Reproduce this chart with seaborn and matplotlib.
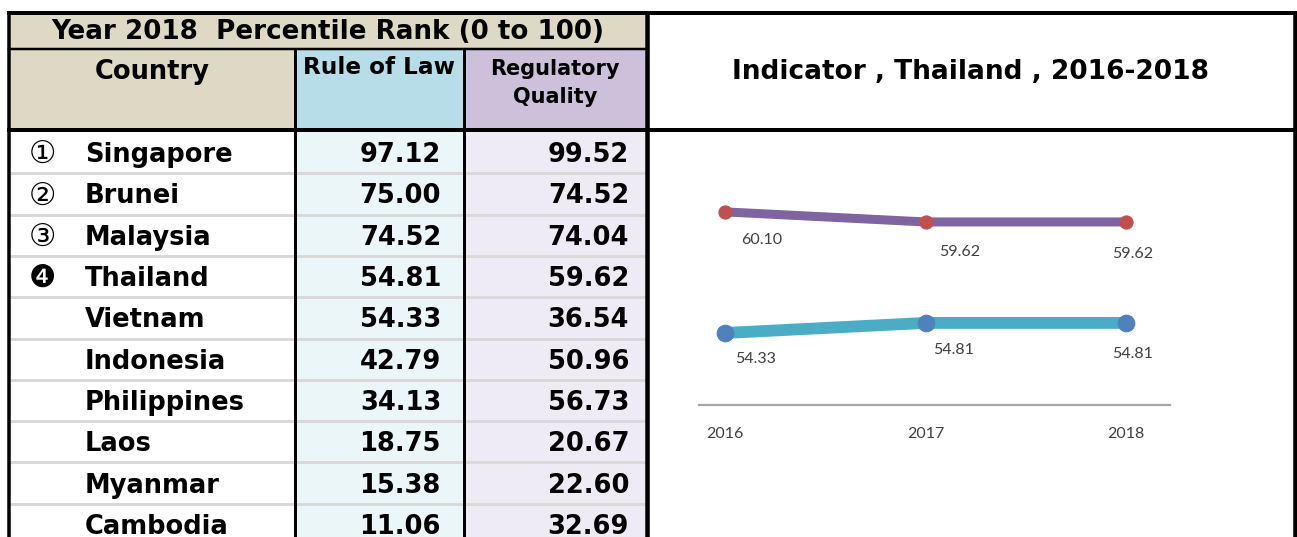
import matplotlib
matplotlib.use('Agg')
import pandas as pd
import matplotlib.pyplot as plt
import seaborn as sns
from matplotlib.patches import Rectangle

# table data (year 2018 percentile rank)
countries = ['Singapore', 'Brunei', 'Malaysia', 'Thailand', 'Vietnam',
             'Indonesia', 'Philippines', 'Laos', 'Myanmar', 'Cambodia']
ranks = ['\u2460', '\u2461', '\u2462', '\u2779', '', '', '', '', '', '']
rule_of_law = [97.12, 75.00, 74.52, 54.81, 54.33, 42.79, 34.13, 18.75, 15.38, 11.06]
reg_quality = [99.52, 74.52, 74.04, 59.62, 36.54, 50.96, 56.73, 20.67, 22.60, 32.69]

# Thailand trend
years = [2016, 2017, 2018]
th_rule_of_law = [54.33, 54.81, 54.81]
th_reg_quality = [60.10, 59.62, 59.62]

sns.set_theme(style='white')
plt.rcParams['font.family'] = ['DejaVu Sans', 'Noto Sans CJK JP']

W, H = 1297, 537
fig = plt.figure(figsize=(W / 100, H / 100), dpi=100)
fig.patch.set_facecolor('white')

# pixel-space axes for the table frame
ax = fig.add_axes([0, 0, 1, 1])
ax.set_xlim(0, W)
ax.set_ylim(H, 0)
ax.axis('off')


def box(x0, y0, x1, y1, color):
    ax.add_patch(Rectangle((x0, y0), x1 - x0, y1 - y0, facecolor=color,
                           edgecolor='none', zorder=1))


def rule(xs, ys, px, color='black', z=4):
    ax.plot(xs, ys, color=color, lw=px * 0.72, solid_capstyle='projecting', zorder=z)


L, R, T = 8.5, 1294.5, 13
MID, HB = 49, 130
C1, C2, C3 = 295, 463.5, 646.5
row0, row_h = 132, 41.3

box(L, T, C3, MID, '#DDD9C4')
box(L, MID, C1, HB, '#DDD9C4')
box(C1, MID, C2, HB, '#B7DEE8')
box(C2, MID, C3, HB, '#CCC0DA')
box(C1, HB, C2, H, '#EBF6F9')
box(C2, HB, C3, H, '#EFEBF4')

for i in range(1, len(countries)):
    y = row0 + i * row_h
    ax.plot([L, C3], [y, y], color='#D9D9D9', lw=3 * 0.72, zorder=2)

rule([L, L], [T, H + 5], 3.5)
rule([C1, C1], [MID, H + 5], 3)
rule([C2, C2], [MID, H + 5], 3)
rule([C3, C3], [T, H + 5], 4.5)
rule([R, R], [T, H + 5], 4.5)
rule([L, R], [T, T], 4)
rule([L, C3], [MID, MID], 2.5)
rule([L, R], [HB, HB], 4)

bold = dict(fontweight='bold', color='black', zorder=5)
ax.text((L + C3) / 2, 32, 'Year 2018  Percentile Rank (0 to 100)', ha='center', va='center',
        fontsize=18.8, **bold)
ax.text((L + C1) / 2, 72, 'Country', ha='center', va='center', fontsize=18.5, **bold)
ax.text((C1 + C2) / 2, 68, 'Rule of Law', ha='center', va='center', fontsize=16.7, **bold)
ax.text((C2 + C3) / 2, 83, 'Regulatory\nQuality', ha='center', va='center', fontsize=15,
        linespacing=1.45, **bold)
ax.text((C3 + R) / 2, 72, 'Indicator , Thailand , 2016-2018', ha='center', va='center',
        fontsize=19, **bold)

for i, (rk, name, rl, rq) in enumerate(zip(ranks, countries, rule_of_law, reg_quality)):
    yb = row0 + (i + 0.5) * row_h + 9.5
    if rk:
        ax.text(42, yb + 1, rk, ha='center', va='baseline', fontsize=22, color='black', zorder=5)
    ax.text(85, yb, name, ha='left', va='baseline', fontsize=18.5, **bold)
    ax.text(441, yb, f'{rl:.2f}', ha='right', va='baseline', fontsize=18.5, **bold)
    ax.text(629, yb, f'{rq:.2f}', ha='right', va='baseline', fontsize=18.5, **bold)

# line chart
ax1 = fig.add_axes([699 / W, (H - 405) / H, 471 / W, 233 / H])
ax1.set_facecolor('none')
trend = pd.DataFrame({'year': years, 'rule': th_rule_of_law, 'reg': th_reg_quality})

sns.lineplot(data=trend, x='year', y='reg', ax=ax1, color='#8064A2', linewidth=6.5,
             marker='o', markersize=9.5, markerfacecolor='#C0504D', markeredgecolor='#C0504D')
sns.lineplot(data=trend, x='year', y='rule', ax=ax1, color='#4BACC6', linewidth=8.5,
             marker='o', markersize=12, markerfacecolor='#4F81BD', markeredgecolor='#4F81BD')

ax1.set_xlim(2016 - 26 / 201, 2018 + 44 / 201)
ax1.set_ylim(50.9, 62.0)

reg_offsets = [(37, -28), (34, -30), (7, -32)]
rule_offsets = [(31, -26), (28, -27), (6, -31)]
for yr, v, off in zip(years, th_reg_quality, reg_offsets):
    ax1.annotate(f'{v:.2f}', (yr, v), xytext=off, textcoords='offset pixels', ha='center',
                 va='center', fontsize=11.5, color='#404040', family='Lato')
for yr, v, off in zip(years, th_rule_of_law, rule_offsets):
    ax1.annotate(f'{v:.2f}', (yr, v), xytext=off, textcoords='offset pixels', ha='center',
                 va='center', fontsize=11.5, color='#404040', family='Lato')

ax1.set_xticks(years)
ax1.set_xticklabels([str(y) for y in years], fontsize=11.5, color='#404040', family='Lato')
ax1.set_yticks([])
ax1.tick_params(axis='x', length=0, pad=16)
ax1.set_xlabel('')
ax1.set_ylabel('')
for s in ['top', 'left', 'right']:
    ax1.spines[s].set_visible(False)
ax1.spines['bottom'].set_color('#A6A6A6')
ax1.spines['bottom'].set_linewidth(1.6)

fig.savefig('out.png', dpi=100, facecolor='white')
